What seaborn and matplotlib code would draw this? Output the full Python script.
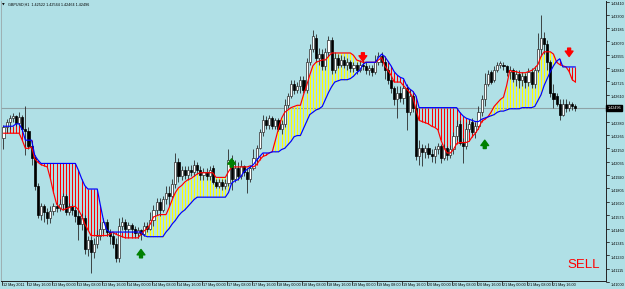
import matplotlib
matplotlib.use("Agg")
import matplotlib.pyplot as plt
import matplotlib.transforms as mtransforms
import numpy as np
import pandas as pd
import seaborn as sns

# ---------------- data (GBPUSD H1) ----------------
open_ = [1.4224,1.4233,1.4238,1.4241,1.4243,1.4237,1.4242,1.4232,1.4230,1.4217,
 1.4207,1.4183,1.4158,1.4165,1.4160,1.4155,1.4161,1.4165,1.4164,1.4167,
 1.4174,1.4160,1.4165,1.4162,1.4157,1.4150,1.4155,1.4128,1.4136,1.4126,
 1.4133,1.4140,1.4146,1.4152,1.4143,1.4140,1.4133,1.4121,1.4148,1.4152,
 1.4146,1.4149,1.4146,1.4142,1.4145,1.4141,1.4148,1.4146,1.4153,1.4162,
 1.4169,1.4162,1.4171,1.4177,1.4174,1.4184,1.4203,1.4191,1.4196,1.4192,
 1.4196,1.4195,1.4201,1.4196,
 1.4192,1.4195,1.4191,1.4198,1.4186,1.4183,1.4186,1.4183,1.4185,1.4205,
 1.4189,1.4198,1.4191,1.4200,1.4195,1.4189,1.4198,1.4207,1.4215,1.4229,
 1.4239,1.4235,1.4241,1.4234,1.4239,1.4232,1.4236,1.4252,1.4260,1.4270,
 1.4265,1.4269,1.4274,1.4265,1.4289,1.4300,1.4310,1.4293,1.4296,1.4286,
 1.4298,1.4308,1.4282,1.4293,1.4287,1.4291,1.4287,1.4289,1.4284,1.4287,
 1.4282,1.4287,1.4286,1.4282,1.4284,1.4281,1.4289,1.4294,1.4289,1.4282,
 1.4274,1.4267,1.4257,1.4263,
 1.4258,1.4267,1.4246,1.4260,1.4250,1.4208,1.4215,1.4212,1.4215,1.4210,
 1.4208,1.4214,1.4217,1.4207,1.4215,1.4209,1.4214,1.4226,1.4236,1.4220,
 1.4217,1.4232,1.4238,1.4229,1.4234,1.4246,1.4257,1.4270,1.4281,1.4274,
 1.4282,1.4287,1.4287,1.4286,1.4281,1.4282,1.4275,1.4279,1.4274,1.4277,
 1.4272,1.4281,1.4270,1.4282,1.4300,1.4310,1.4305,1.4289,1.4263,1.4260,
 1.4253,1.4244,1.4253,1.4250,1.4253,1.4251]

close = [1.4233,1.4238,1.4241,1.4243,1.4237,1.4242,1.4232,1.4230,1.4217,1.4207,
 1.4183,1.4158,1.4165,1.4160,1.4155,1.4161,1.4165,1.4164,1.4167,1.4174,
 1.4160,1.4165,1.4162,1.4157,1.4150,1.4155,1.4128,1.4136,1.4126,1.4133,
 1.4140,1.4146,1.4152,1.4143,1.4140,1.4133,1.4121,1.4148,1.4152,1.4146,
 1.4149,1.4146,1.4142,1.4145,1.4141,1.4148,1.4146,1.4153,1.4162,1.4169,
 1.4162,1.4171,1.4177,1.4174,1.4184,1.4203,1.4191,1.4196,1.4192,1.4196,
 1.4195,1.4201,1.4196,1.4192,
 1.4195,1.4191,1.4196,1.4186,1.4183,1.4186,1.4183,1.4185,1.4205,1.4189,
 1.4198,1.4191,1.4200,1.4195,1.4189,1.4198,1.4207,1.4215,1.4229,1.4239,
 1.4235,1.4241,1.4234,1.4239,1.4232,1.4236,1.4252,1.4260,1.4270,1.4265,
 1.4269,1.4274,1.4265,1.4289,1.4300,1.4312,1.4293,1.4296,1.4286,1.4298,
 1.4308,1.4282,1.4293,1.4287,1.4291,1.4287,1.4289,1.4284,1.4287,1.4282,
 1.4287,1.4286,1.4282,1.4284,1.4281,1.4289,1.4294,1.4289,1.4282,1.4274,
 1.4267,1.4257,1.4263,1.4258,
 1.4267,1.4246,1.4260,1.4250,1.4208,1.4215,1.4212,1.4215,1.4210,1.4208,
 1.4214,1.4217,1.4207,1.4215,1.4209,1.4214,1.4226,1.4234,1.4220,1.4217,
 1.4232,1.4236,1.4229,1.4234,1.4246,1.4257,1.4270,1.4279,1.4272,1.4282,
 1.4287,1.4288,1.4286,1.4281,1.4282,1.4275,1.4279,1.4274,1.4277,1.4272,
 1.4281,1.4270,1.4282,1.4300,1.4310,1.4305,1.4289,1.4263,1.4257,1.4253,
 1.4244,1.4253,1.4250,1.4253,1.4251,1.42496]

high = [1.4235,1.4240,1.4244,1.4245,1.4244,1.4246,1.4244,1.4251,1.4233,1.4221,
 1.4209,1.4185,1.4168,1.4167,1.4164,1.4165,1.4168,1.4168,1.4171,1.4177,
 1.4176,1.4168,1.4167,1.4165,1.4162,1.4159,1.4158,1.4140,1.4140,1.4138,
 1.4145,1.4152,1.4155,1.4154,1.4146,1.4143,1.4138,1.4155,1.4156,1.4154,
 1.4152,1.4151,1.4148,1.4147,1.4146,1.4152,1.4152,1.4160,1.4166,1.4172,
 1.4172,1.4174,1.4183,1.4183,1.4189,1.4211,1.4207,1.4200,1.4200,1.4200,
 1.4201,1.4205,1.4203,1.4200,
 1.4198,1.4198,1.4200,1.4201,1.4189,1.4189,1.4189,1.4189,1.4214,1.4209,
 1.4205,1.4203,1.4205,1.4201,1.4198,1.4201,1.4214,1.4218,1.4232,1.4244,
 1.4243,1.4244,1.4243,1.4241,1.4241,1.4239,1.4257,1.4263,1.4274,1.4274,
 1.4272,1.4277,1.4277,1.4293,1.4305,1.4317,1.4313,1.4301,1.4300,1.4301,
 1.4312,1.4311,1.4298,1.4296,1.4295,1.4294,1.4293,1.4291,1.4289,1.4289,
 1.4291,1.4291,1.4289,1.4287,1.4287,1.4295,1.4298,1.4298,1.4293,1.4286,
 1.4277,1.4269,1.4269,1.4269,
 1.4270,1.4270,1.4265,1.4262,1.4253,1.4222,1.4219,1.4218,1.4220,1.4214,
 1.4217,1.4220,1.4219,1.4219,1.4217,1.4218,1.4229,1.4239,1.4239,1.4224,
 1.4238,1.4239,1.4241,1.4238,1.4251,1.4261,1.4280,1.4282,1.4282,1.4286,
 1.4289,1.4290,1.4289,1.4287,1.4286,1.4284,1.4282,1.4282,1.4281,1.4280,
 1.4284,1.4284,1.4286,1.4314,1.4330,1.4315,1.4308,1.4291,1.4270,1.4263,
 1.4257,1.4257,1.4257,1.4256,1.4255,1.4253]

low = [1.4214,1.4228,1.4232,1.4238,1.4234,1.4235,1.4230,1.4209,1.4214,1.4201,
 1.4179,1.4155,1.4153,1.4152,1.4150,1.4151,1.4158,1.4160,1.4161,1.4163,
 1.4158,1.4158,1.4158,1.4152,1.4136,1.4145,1.4124,1.4122,1.4108,1.4121,
 1.4129,1.4136,1.4142,1.4140,1.4133,1.4129,1.4117,1.4117,1.4145,1.4143,
 1.4143,1.4142,1.4139,1.4138,1.4136,1.4140,1.4143,1.4145,1.4148,1.4158,
 1.4157,1.4160,1.4167,1.4165,1.4172,1.4181,1.4186,1.4188,1.4189,1.4188,
 1.4191,1.4191,1.4193,1.4188,
 1.4188,1.4188,1.4188,1.4184,1.4181,1.4181,1.4179,1.4180,1.4183,1.4179,
 1.4186,1.4188,1.4189,1.4191,1.4177,1.4186,1.4196,1.4203,1.4214,1.4226,
 1.4232,1.4232,1.4232,1.4232,1.4230,1.4227,1.4233,1.4250,1.4258,1.4262,
 1.4263,1.4263,1.4263,1.4263,1.4287,1.4298,1.4289,1.4287,1.4282,1.4282,
 1.4294,1.4279,1.4280,1.4284,1.4285,1.4284,1.4282,1.4281,1.4281,1.4279,
 1.4281,1.4282,1.4279,1.4278,1.4277,1.4279,1.4287,1.4286,1.4275,1.4270,
 1.4263,1.4252,1.4241,1.4255,
 1.4253,1.4231,1.4244,1.4246,1.4205,1.4201,1.4200,1.4207,1.4207,1.4203,
 1.4202,1.4210,1.4202,1.4205,1.4205,1.4207,1.4210,1.4222,1.4218,1.4202,
 1.4214,1.4229,1.4227,1.4224,1.4232,1.4243,1.4251,1.4269,1.4270,1.4272,
 1.4281,1.4284,1.4282,1.4277,1.4275,1.4272,1.4269,1.4267,1.4269,1.4267,
 1.4269,1.4267,1.4267,1.4281,1.4294,1.4296,1.4282,1.4259,1.4250,1.4251,
 1.4239,1.4243,1.4246,1.4247,1.4248,1.4247]

span_a = [1.4228,1.4228,1.4228,1.4228,1.4228,1.4228,1.4222,1.4215,1.4215,1.4216,
 1.4206,1.4203,1.4201,1.4200,1.4199,1.4189,1.4177,1.4167,1.4164,1.4162,
 1.4163,1.4164,1.4165,1.4165,1.4162,1.4157,1.4150,1.4145,1.4140,1.4140,
 1.4140,1.4140,1.4140,1.4140,1.4141,1.4143,1.4141,1.4140,1.4139,1.4138,
 1.4138,1.4138,1.4138,1.4138,1.4141,1.4144,1.4146,1.4150,1.4156,1.4157,
 1.4158,1.4158,1.4158,1.4164,1.4171,1.4177,1.4181,1.4183,1.4186,1.4188,
 1.4189,1.4191,1.4193,1.4194,1.4194,1.4194,1.4194,1.4194,1.4190,1.4190,
 1.4190,1.4190,1.4195,1.4199,1.4199,1.4199,1.4199,1.4199,1.4199,1.4200,
 1.4199,1.4201,1.4205,1.4208,1.4209,1.4211,1.4212,1.4222,1.4232,1.4241,
 1.4246,1.4248,1.4250,1.4251,1.4252,1.4252,1.4261,1.4269,1.4278,1.4286,
 1.4289,1.4290,1.4291,1.4291,1.4294,1.4297,1.4297,1.4297,1.4297,1.4297,
 1.4297,1.4297,1.4295,1.4291,1.4290,1.4289,1.4289,1.4289,1.4289,1.4289,
 1.4291,1.4293,1.4286,1.4282,1.4278,1.4272,1.4272,1.4272,1.4269,1.4266,
 1.4263,1.4259,1.4248,1.4239,1.4238,1.4237,1.4236,1.4234,1.4233,1.4231,
 1.4222,1.4215,1.4211,1.4211,1.4214,1.4219,1.4220,1.4220,1.4220,1.4221,
 1.4225,1.4228,1.4232,1.4238,1.4240,1.4242,1.4246,1.4251,1.4254,1.4257,
 1.4259,1.4269,1.4282,1.4281,1.4281,1.4280,1.4280,1.4280,1.4281,1.4282,
 1.4284,1.4287,1.4294,1.4298,1.4298,1.4298,1.4296,1.4289,1.4287,1.4286,
 1.4285,1.4281,1.4274,1.4272]

span_b = [1.4234,1.4234,1.4234,1.4234,1.4236,1.4236,1.4231,1.4222,1.4222,1.4222,
 1.4209,1.4205,1.4202,1.4202,1.4202,1.4202,1.4202,1.4202,1.4202,1.4202,
 1.4202,1.4202,1.4202,1.4202,1.4196,1.4189,1.4183,1.4180,1.4180,1.4180,
 1.4180,1.4166,1.4153,1.4145,1.4143,1.4143,1.4143,1.4143,1.4143,1.4143,
 1.4143,1.4143,1.4143,1.4143,1.4143,1.4140,1.4139,1.4139,1.4139,1.4139,
 1.4139,1.4139,1.4143,1.4146,1.4150,1.4153,1.4157,1.4160,1.4162,1.4165,
 1.4168,1.4171,1.4173,1.4173,1.4173,1.4173,1.4173,1.4173,1.4173,1.4173,
 1.4173,1.4173,1.4177,1.4185,1.4187,1.4188,1.4191,1.4195,1.4197,1.4199,
 1.4201,1.4205,1.4208,1.4211,1.4211,1.4211,1.4212,1.4212,1.4212,1.4214,
 1.4215,1.4218,1.4221,1.4225,1.4226,1.4226,1.4232,1.4238,1.4244,1.4246,
 1.4248,1.4249,1.4251,1.4257,1.4263,1.4268,1.4272,1.4273,1.4274,1.4274,
 1.4274,1.4275,1.4277,1.4280,1.4282,1.4287,1.4289,1.4289,1.4289,1.4289,
 1.4293,1.4296,1.4294,1.4290,1.4286,1.4281,1.4278,1.4276,1.4275,1.4269,
 1.4266,1.4264,1.4260,1.4250,1.4250,1.4250,1.4250,1.4250,1.4250,1.4250,
 1.4250,1.4250,1.4250,1.4250,1.4250,1.4250,1.4246,1.4243,1.4241,1.4240,
 1.4239,1.4238,1.4238,1.4240,1.4241,1.4242,1.4243,1.4244,1.4246,1.4247,
 1.4247,1.4248,1.4249,1.4249,1.4249,1.4249,1.4250,1.4250,1.4250,1.4250,
 1.4251,1.4256,1.4261,1.4269,1.4275,1.4281,1.4286,1.4290,1.4292,1.4285,
 1.4285,1.4285,1.4285,1.4285]

last_price = 1.42496
buy_bars = [44, 73, 154]
buy_prices = [1.4128, 1.4206, 1.4222]
sell_bars = [115, 181]
sell_prices = [1.4290, 1.4294]

xtick_bars = [0, 8, 16, 24, 32, 40, 48, 56, 64, 72, 80, 88, 96, 104, 112,
              120, 128, 136, 144, 152, 160, 168, 176]
xtick_labels = ["12 May 2011", "12 May 16:00", "13 May 00:00", "13 May 08:00",
                "13 May 16:00", "14 May 00:00", "14 May 08:00", "14 May 16:00",
                "17 May 00:00", "17 May 08:00", "17 May 16:00", "18 May 00:00",
                "18 May 08:00", "18 May 16:00", "19 May 00:00", "19 May 08:00",
                "19 May 16:00", "20 May 00:00", "20 May 08:00", "20 May 16:00",
                "21 May 00:00", "21 May 08:00", "21 May 16:00"]
ytick_labels = ["1.41000", "1.41115", "1.41230", "1.41345", "1.41460", "1.41575",
                "1.41690", "1.41805", "1.41920", "1.42035", "1.42150", "1.42265",
                "1.42380", "1.42610", "1.42725", "1.42840", "1.42955",
                "1.43070", "1.43185", "1.43300", "1.43410"]
title_text = "GBPUSD,H1  1.42522 1.42564 1.42464 1.42496"

# ---------------- styling ----------------
sns.set_style("white")
plt.rcParams['font.family'] = ['Liberation Sans', 'DejaVu Sans']
BG = '#B0E0E6'

fig = plt.figure(figsize=(6.25, 2.89), dpi=100, facecolor=BG)
ax = fig.add_axes([1/625, 8/289, 605/625, 280/289], facecolor=BG)

n = len(close)
df = pd.DataFrame({'bar': np.arange(n), 'open': open_, 'close': close,
                   'high': high, 'low': low, 'span_a': span_a, 'span_b': span_b})

# cloud hatching
up = df[df.span_a >= df.span_b]
dn = df[df.span_a < df.span_b]
ax.vlines(up.bar, up.span_b, up.span_a, color='#FFFF00', lw=0.75, zorder=1)
ax.vlines(dn.bar, dn.span_a, dn.span_b, color='#FF0000', lw=0.75, zorder=1)

# bid line
ax.axhline(last_price, color='#8EA2A6', lw=0.8, zorder=0.5)

# candles
ax.vlines(df.bar, df.low, df.high, color='#2a2a2a', lw=0.6, zorder=3)
bull = df.close >= df.open
body_h = (df.close - df.open).abs().clip(lower=0.00003)
ax.bar(df.bar[bull], body_h[bull], bottom=df.open[bull], width=0.7,
       color='white', edgecolor='#2a2a2a', linewidth=0.5, zorder=4)
ax.bar(df.bar[~bull], body_h[~bull], bottom=df.close[~bull], width=0.7,
       color='black', edgecolor='black', linewidth=0.5, zorder=4)

# span lines
sns.lineplot(data=df, x='bar', y='span_a', color='#FF0000', lw=0.85, ax=ax, zorder=5)
sns.lineplot(data=df, x='bar', y='span_b', color='#0000FF', lw=0.85, ax=ax, zorder=5)

# signals
for b, p in zip(buy_bars, buy_prices):
    ax.annotate('', xy=(b, p), xytext=(0, -6), textcoords='offset points',
                arrowprops=dict(arrowstyle='simple,head_width=0.8,head_length=0.55,tail_width=0.3',
                                color='#008000', mutation_scale=7, shrinkA=0, shrinkB=0),
                zorder=6)
for b, p in zip(sell_bars, sell_prices):
    ax.annotate('', xy=(b, p), xytext=(0, 6), textcoords='offset points',
                arrowprops=dict(arrowstyle='simple,head_width=0.8,head_length=0.55,tail_width=0.3',
                                color='#FF0000', mutation_scale=7, shrinkA=0, shrinkB=0),
                zorder=6)

ax.set_xlim(-0.8, 192.8)
ax.set_ylim(1.41009, 1.43417)
ax.set_xticks([])
ax.set_yticks([])
ax.set_xlabel('')
ax.set_ylabel('')
ax.spines['top'].set_visible(False)
ax.spines['left'].set_color('#9aa8ab')
ax.spines['left'].set_linewidth(0.6)
ax.spines['right'].set_color('#222222')
ax.spines['right'].set_linewidth(0.7)
ax.spines['bottom'].set_color('#222222')
ax.spines['bottom'].set_linewidth(0.7)

# right price axis
ytr = mtransforms.blended_transform_factory(ax.transAxes, ax.transData)
lab_tr = mtransforms.offset_copy(ytr, fig=fig, x=0, y=-1.8, units='points')
for lab in ytick_labels:
    v = float(lab)
    ax.plot([1, 1 + 3/605], [v, v], transform=ytr, color='#222222', lw=0.6, clip_on=False)
    ax.text(1 + 5/605, v, lab, transform=lab_tr, fontsize=2.7, va='center', ha='left',
            color='black', clip_on=False)
ax.text(1 + 1.5/605, last_price, f"{last_price:.5f}", transform=ytr, fontsize=2.7,
        va='center', ha='left', color='white', clip_on=False,
        bbox=dict(boxstyle='square,pad=0.35', fc='black', ec='black'))

# bottom time axis
xtr = mtransforms.blended_transform_factory(ax.transData, ax.transAxes)
for b, lab in zip(xtick_bars, xtick_labels):
    ax.plot([b - 0.5, b - 0.5], [0, -4/280], transform=xtr, color='#222222', lw=0.6, clip_on=False)
    ax.text(b - 0.2, -4/280, lab, transform=xtr, fontsize=2.7, va='center', ha='left',
            color='black', clip_on=False)

# header and signal label
fig.text(2/625, 1 - 5/289, '\u25bc', fontsize=2.5, va='center', ha='left', color='black',
         family=['DejaVu Sans'])
fig.text(8/625, 1 - 5/289, title_text, fontsize=2.7, va='center', ha='left', color='black')
fig.text(567/625, 1 - 265/289, 'SELL', fontsize=9.5, va='center', ha='left', color='#FF0000')

fig.savefig('out.png', dpi=100, facecolor=BG)
